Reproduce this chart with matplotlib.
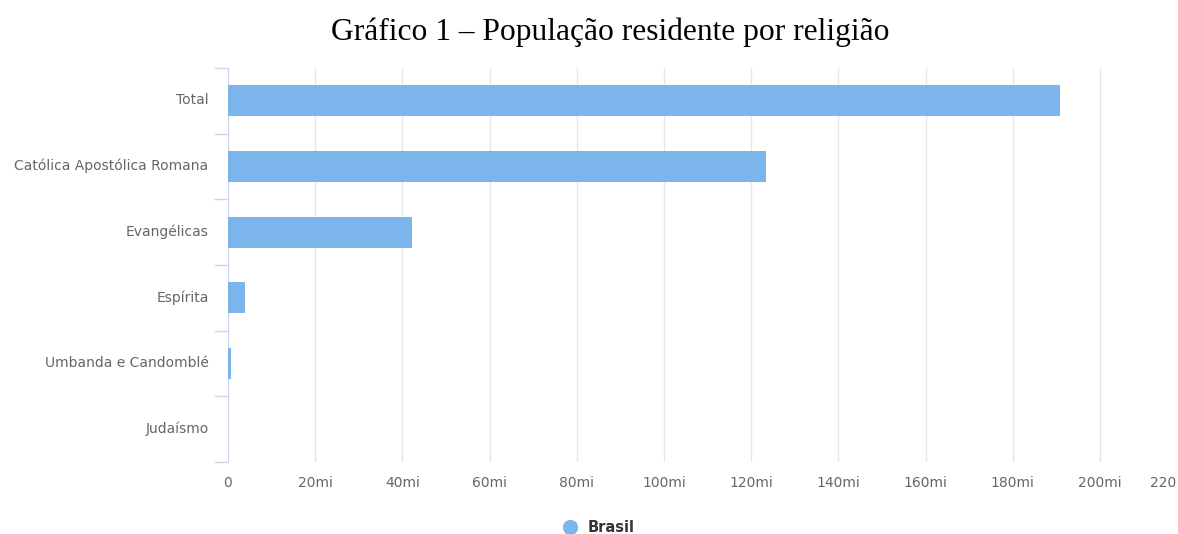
import matplotlib.pyplot as plt
from matplotlib.lines import Line2D
from matplotlib.transforms import ScaledTranslation

# data (milhões de pessoas, Censo 2010)
categories = ['Total', 'Católica Apostólica Romana', 'Evangélicas', 'Espírita',
              'Umbanda e Candomblé', 'Judaísmo']
values = [190.8, 123.3, 42.3, 3.85, 0.59, 0.11]
x_ticks = [0, 20, 40, 60, 80, 100, 120, 140, 160, 180, 200]
x_labels = ['0'] + [f'{v}mi' for v in x_ticks[1:]]

bar_color = '#7cb5ec'
axis_color = '#ccd6eb'
grid_color = '#e6e6e6'
label_color = '#666666'

fig = plt.figure(figsize=(11.78, 5.34), dpi=100)
ax = fig.add_axes([228 / 1178, 72 / 534, (1152 - 228) / 1178, (466 - 72) / 534])

pos = list(range(len(categories)))
ax.barh(pos, values, height=0.47, color=bar_color, zorder=3)
ax.set_ylim(len(categories) - 0.5, -0.5)
ax.set_xlim(0, (1152 - 228) / 4.36)

ax.set_yticks(pos)
ax.set_yticklabels(categories)
ax.set_yticks([p - 0.5 for p in pos] + [len(categories) - 0.5], minor=True)
ax.tick_params(axis='y', which='major', length=0, pad=14, labelsize=10, labelcolor=label_color)
ax.tick_params(axis='y', which='minor', length=10, color=axis_color, width=1)
shift = ScaledTranslation(0, 2 / 100, fig.dpi_scale_trans)
for lab in ax.get_yticklabels():
    lab.set_transform(lab.get_transform() + shift)

ax.set_xticks(x_ticks)
ax.set_xticklabels(x_labels)
ax.tick_params(axis='x', length=0, pad=10, labelsize=10, labelcolor=label_color)
ax.annotate('220', xy=(1, 0), xycoords='axes fraction', xytext=(8, -10),
            textcoords='offset points', ha='center', va='top', fontsize=10, color=label_color)

ax.grid(axis='x', color=grid_color, lw=1, zorder=0)
for s in ['top', 'right', 'bottom']:
    ax.spines[s].set_visible(False)
ax.spines['left'].set_color(axis_color)

fig.text(0.518, 0.94, 'Gráfico 1 – População residente por religião', ha='center', va='center',
         fontsize=22.7, family='Liberation Serif', color='black')

handle = Line2D([], [], marker='o', ls='', color=bar_color, markersize=10)
fig.legend(handles=[handle], labels=['Brasil'], loc='center', bbox_to_anchor=(0.505, 0.012),
           frameon=False, handletextpad=0.2, prop={'weight': 'bold', 'size': 10.5},
           labelcolor='#333333')

fig.savefig('out.png', dpi=100)
